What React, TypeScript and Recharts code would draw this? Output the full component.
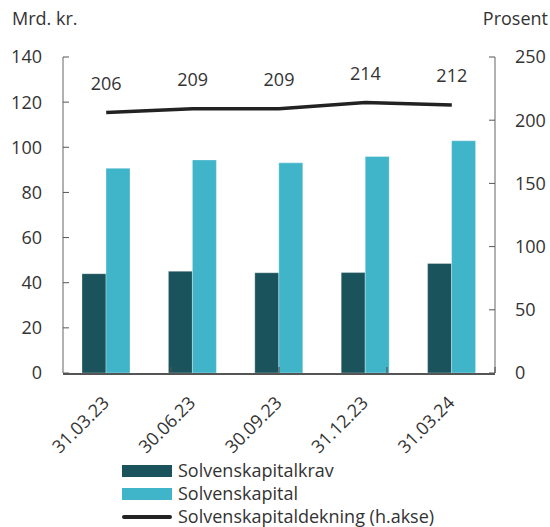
import { Bar, ComposedChart, LabelList, Legend, Line, XAxis, YAxis } from "recharts";

const dates = ["31.03.23", "30.06.23", "30.09.23", "31.12.23", "31.03.24"];
const kapitalkrav = [44.0, 45.1, 44.4, 44.5, 48.5];
const kapital = [90.7, 94.4, 93.1, 95.9, 102.9];
const dekning = [206, 209, 209, 214, 212];
const leftTicks = [0, 20, 40, 60, 80, 100, 120, 140];
const rightTicks = [0, 50, 100, 150, 200, 250];
const boundaries = [1, 2, 3, 4];
const legendOrder = ["krav", "kapital", "dekning"];

const data = dates.map((date, i) => ({
  date,
  krav: kapitalkrav[i],
  kapital: kapital[i],
  dekning: dekning[i],
}));

const FONT = "'Open Sans', sans-serif";
const TEXT = "#333333";

function DateTick(props: any) {
  const { x, y, payload } = props;
  const tx = x + 4;
  const ty = y + 30;
  return (
    <text x={tx} y={ty} transform={`rotate(-45 ${tx} ${ty})`} textAnchor="end" fontSize={18} fill={TEXT} fontFamily={FONT}>
      {payload.value}
    </text>
  );
}

// small upward mark at each category boundary
function EdgeTick(props: any) {
  const { x, y } = props;
  return <line x1={x} x2={x} y1={y} y2={y - 6} stroke="#555" strokeWidth={1.2} />;
}

function LegendBox(props: any) {
  const payload = [...(props.payload || [])].sort(
    (a: any, b: any) => legendOrder.indexOf(a.dataKey) - legendOrder.indexOf(b.dataKey)
  );
  return (
    <div style={{ fontFamily: FONT, fontSize: 18, color: TEXT }}>
      {payload.map((item: any) => (
        <div key={item.value} style={{ display: "flex", alignItems: "center", height: 23 }}>
          {item.type === "line" ? (
            <div style={{ width: 50, height: 4, borderRadius: 2, background: item.color, marginRight: 6 }} />
          ) : (
            <div style={{ width: 50, height: 12, background: item.color, marginRight: 6 }} />
          )}
          <span style={{ lineHeight: "23px" }}>{item.value}</span>
        </div>
      ))}
    </div>
  );
}

export default function App() {
  return (
    <div style={{ position: "absolute", left: 0, top: 0, width: 550, height: 527, background: "#fff", fontFamily: FONT }}>
      <div style={{ position: "absolute", left: 12, top: 6, fontSize: 18, color: TEXT }}>Mrd. kr.</div>
      <div style={{ position: "absolute", right: 2, top: 6, fontSize: 18, color: TEXT }}>Prosent</div>
      <ComposedChart width={550} height={527} data={data} margin={{ top: 57, right: 0, bottom: 0, left: 0 }} barGap={0}>
        <XAxis xAxisId="cat" dataKey="date" height={153} tickLine={false} tickSize={0} tickMargin={0} interval={0}
          axisLine={{ stroke: "#555", strokeWidth: 2 }} tick={<DateTick />} />
        <XAxis xAxisId="aEdge" type="number" domain={[0, 5]} ticks={boundaries} height={1} axisLine={false}
          allowDataOverflow tickLine={false} tickSize={0} tickMargin={0} tick={<EdgeTick />} interval={0} />
        <YAxis yAxisId="left" domain={[0, 140]} ticks={leftTicks} width={63} tickSize={-6} tickMargin={27}
          axisLine={{ stroke: "#888", strokeWidth: 1.3 }} tickLine={{ stroke: "#555" }}
          tick={{ fill: TEXT, fontSize: 18, fontFamily: FONT }} />
        <YAxis yAxisId="right" orientation="right" domain={[0, 250]} ticks={rightTicks} width={55} tickSize={-6} tickMargin={26}
          axisLine={{ stroke: "#888", strokeWidth: 1.3 }} tickLine={{ stroke: "#555" }}
          tick={{ fill: TEXT, fontSize: 18, fontFamily: FONT, textAnchor: "start" }} />
        <Bar xAxisId="cat" yAxisId="left" dataKey="krav" name="Solvenskapitalkrav" fill="#1a535b" barSize={24}
          stroke="#ffffff" strokeOpacity={0.4} strokeWidth={0.8} legendType="rect" isAnimationActive={false} />
        <Bar xAxisId="cat" yAxisId="left" dataKey="kapital" name="Solvenskapital" fill="#40b4c8" barSize={24}
          stroke="#ffffff" strokeOpacity={0.4} strokeWidth={0.8} legendType="rect" isAnimationActive={false} />
        <Line xAxisId="cat" yAxisId="right" dataKey="dekning" name="Solvenskapitaldekning (h.akse)" stroke="#222222" strokeWidth={3.5}
          dot={false} activeDot={false} legendType="line" isAnimationActive={false}>
          <LabelList dataKey="dekning" position="top" offset={23} fill={TEXT} fontSize={18} fontFamily={FONT} />
        </Line>
        <Legend layout="vertical" align="center" verticalAlign="middle" content={<LegendBox />}
          wrapperStyle={{ top: 459, left: 122, width: "auto", height: "auto" }} />
      </ComposedChart>
    </div>
  );
}
